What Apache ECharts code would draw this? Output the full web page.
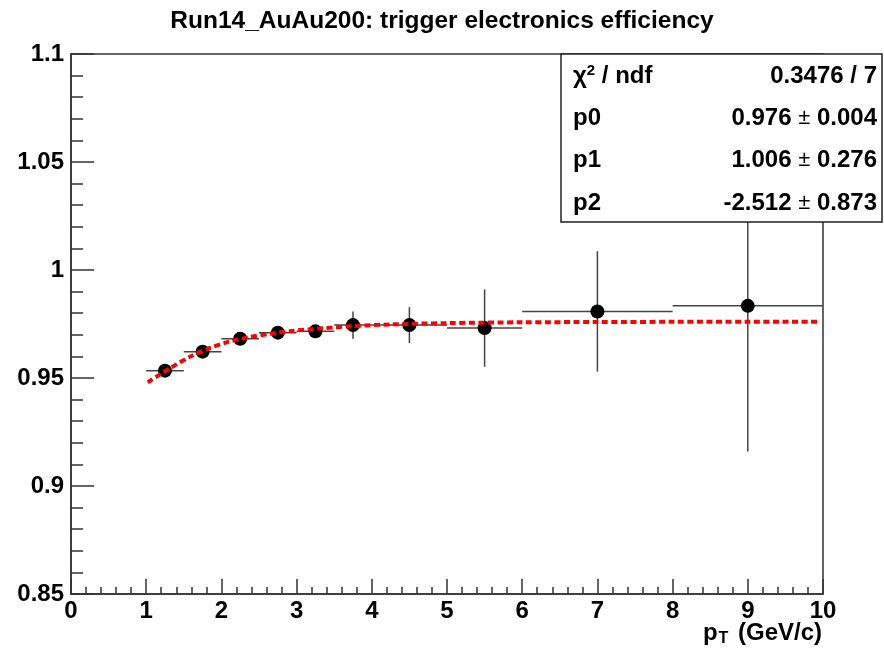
<!DOCTYPE html>
<html>
<head>
<meta charset="utf-8">
<script src="https://cdn.jsdelivr.net/npm/echarts@6/dist/echarts.min.js"></script>
<style>html,body{margin:0;padding:0;background:#fff}#c{width:884px;height:651px}</style>
</head>
<body>
<div id="c"></div>
<script>
// ---- data ----
const binCenters = [1.25, 1.75, 2.25, 2.75, 3.25, 3.75, 4.5, 5.5, 7, 9];
const binLow     = [1.0, 1.5, 2.0, 2.5, 3.0, 3.5, 4.0, 5.0, 6.0, 8.0];
const binHigh    = [1.5, 2.0, 2.5, 3.0, 3.5, 4.0, 5.0, 6.0, 8.0, 10.0];
const eff        = [0.9534, 0.9622, 0.9682, 0.9710, 0.9716, 0.9745, 0.9745, 0.9731, 0.9808, 0.9834];
const effErr     = [0.0020, 0.0020, 0.0020, 0.0022, 0.0030, 0.0063, 0.0083, 0.0179, 0.0279, 0.0674];
const fitX = [1.02, 1.32, 1.58, 1.85, 2.11, 2.38, 2.65, 2.91, 3.36, 3.80, 4.24, 5.0, 6.0, 7.0, 8.0, 9.0, 9.94];
const fitY = [0.9480, 0.9546, 0.9598, 0.9640, 0.9669, 0.9690, 0.9705, 0.9717, 0.9731, 0.9741, 0.9748, 0.9754, 0.9758, 0.9759, 0.9760, 0.9760, 0.9760];
const xTicks = [0, 1, 2, 3, 4, 5, 6, 7, 8, 9, 10];
const yTickLabels = {"0.85": "0.85", "0.9": "0.9", "0.95": "0.95", "1": "1", "1.05": "1.05", "1.1": "1.1"};
const titleText = "Run14_AuAu200: trigger electronics efficiency";
const statRows = [
  ["{n|χ}{sup|2}{n| / ndf}", "{n|0.3476 / 7}"],
  ["{n|p0}", "{n|0.976 }{pm|±}{n| 0.004}"],
  ["{n|p1}", "{n|1.006 }{pm|±}{n| 0.276}"],
  ["{n|p2}", "{n|-2.512 }{pm|±}{n| 0.873}"]
];

const FONT = '"Liberation Sans", Arial, Helvetica, sans-serif';
const chart = echarts.init(document.getElementById('c'), null, {renderer: 'canvas'});

const errData = binCenters.map((c, i) => [binLow[i], binHigh[i], eff[i], effErr[i], c]);
const ptData = binCenters.map((c, i) => [c, eff[i]]);
const fitData = fitX.map((x, i) => [x, fitY[i]]);

const rich = {
  n: {fontFamily: FONT, fontWeight: 'bold', fontSize: 24, color: '#000'},
  sup: {fontFamily: FONT, fontWeight: 'bold', fontSize: 15, color: '#000', verticalAlign: 'top', padding: [0, 0, 10, 0]},
  pm: {fontFamily: FONT, fontWeight: 'normal', fontSize: 22, color: '#000'}
};

const graphics = [
  {type: 'rect', z: 100, shape: {x: 561, y: 54, width: 321, height: 168},
   style: {fill: '#fff', stroke: '#222', lineWidth: 1.5}}
];
const rowY = [76, 118, 160, 203];
statRows.forEach((r, i) => {
  graphics.push({type: 'text', z: 101, x: 573, y: rowY[i],
    style: {text: r[0], rich: rich, textAlign: 'left', textVerticalAlign: 'middle'}});
  graphics.push({type: 'text', z: 101, x: 877, y: rowY[i],
    style: {text: r[1], rich: rich, textAlign: 'right', textVerticalAlign: 'middle'}});
});
graphics.push({type: 'text', z: 101, x: 822, y: 633,
  style: {text: '{n|p}{sub|T}{n| (GeV/c)}', textAlign: 'right', textVerticalAlign: 'middle',
    rich: {n: {fontFamily: FONT, fontWeight: 'bold', fontSize: 24, color: '#000'},
           sub: {fontFamily: FONT, fontWeight: 'bold', fontSize: 16, color: '#000', verticalAlign: 'bottom', padding: [12, 3, 0, 1]}}}});

chart.setOption({
  animation: false,
  backgroundColor: '#fff',
  title: {text: titleText, left: 'center', top: 4,
    textStyle: {fontFamily: FONT, fontWeight: 'bold', fontSize: 24.5, color: '#000'}},
  grid: {left: 71, top: 54, width: 752, height: 540, show: true, borderColor: '#333', borderWidth: 1.5, backgroundColor: 'transparent'},
  xAxis: {
    type: 'value', min: 0, max: 10, interval: 1,
    axisLine: {show: true, onZero: false, lineStyle: {color: '#333', width: 1.5}},
    axisTick: {show: true, inside: true, length: 15, lineStyle: {color: '#333', width: 1.5}},
    minorTick: {show: true, splitNumber: 5, length: 7, lineStyle: {color: '#333', width: 1.5}},
    splitLine: {show: false},
    axisLabel: {show: true, margin: 5, showMinLabel: true, showMaxLabel: true,
      fontFamily: FONT, fontWeight: 'bold', fontSize: 24, color: '#000',
      formatter: v => (xTicks.indexOf(v) >= 0 ? String(v) : '')}
  },
  yAxis: {
    type: 'value', min: 0.85, max: 1.1, interval: 0.05,
    axisLine: {show: true, onZero: false, lineStyle: {color: '#333', width: 1.5}},
    axisTick: {show: true, inside: true, length: 23, lineStyle: {color: '#333', width: 1.5}},
    minorTick: {show: true, splitNumber: 5, length: 12, lineStyle: {color: '#333', width: 1.5}},
    splitLine: {show: false},
    axisLabel: {show: true, margin: 7, showMinLabel: true, showMaxLabel: true,
      fontFamily: FONT, fontWeight: 'bold', fontSize: 24, color: '#000',
      formatter: v => { const k = String(Math.round(v * 100) / 100); return yTickLabels[k] !== undefined ? yTickLabels[k] : k; }}
  },
  series: [
    {
      type: 'custom', z: 2, clip: true,
      data: errData,
      renderItem: function (params, api) {
        const xl = api.value(0), xh = api.value(1), y = api.value(2), e = api.value(3), xc = api.value(4);
        const a = api.coord([xl, y]), b = api.coord([xh, y]);
        const c = api.coord([xc, y - e]), d = api.coord([xc, y + e]);
        return {type: 'group', children: [
          {type: 'line', shape: {x1: a[0], y1: a[1], x2: b[0], y2: b[1]}, style: {stroke: '#444', lineWidth: 1.5}},
          {type: 'line', shape: {x1: c[0], y1: c[1], x2: d[0], y2: d[1]}, style: {stroke: '#444', lineWidth: 1.5}}
        ]};
      }
    },
    {
      type: 'scatter', z: 3, data: ptData, symbol: 'circle', symbolSize: 14,
      itemStyle: {color: '#000', opacity: 1}
    },
    {
      type: 'line', z: 4, data: fitData, smooth: 0.3, showSymbol: false, symbol: 'none',
      lineStyle: {color: '#ff0000', width: 4, type: [6, 3.5]}
    }
  ],
  graphic: graphics
});
</script>
</body>
</html>
